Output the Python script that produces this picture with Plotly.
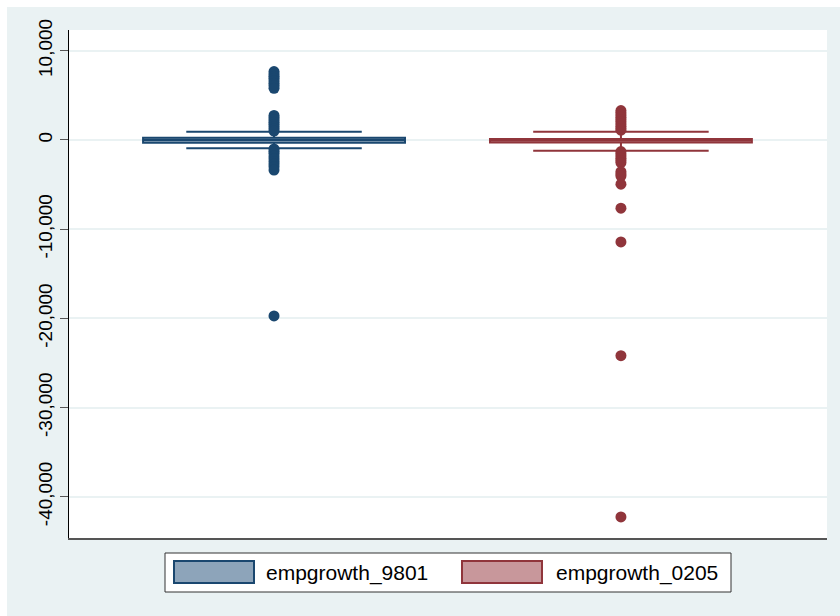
import plotly.graph_objects as go

# --- data -------------------------------------------------------------
series_names = ["empgrowth_9801", "empgrowth_0205"]
positions = [0, 1]

q1 = [-300, -280]
median = [0, -40]
q3 = [240, 120]
lower_whisker = [-930, -1200]
upper_whisker = [930, 930]

outliers_9801 = [
    7670, 7400, 7150, 6930, 6650, 6370, 6100, 5800,
    2750, 2500, 2250, 2000, 1750, 1500, 1250, 1000,
    -1000, -1250, -1500, -1800, -2100, -2400, -2700, -3000, -3370,
    -19730,
]
outliers_0205 = [
    3300, 3050, 2800, 2550, 2300, 2050, 1800, 1550, 1300, 1100,
    -1300, -1550, -1800, -2050, -2300, -2550,
    -3550, -3800, -4050, -4950, -7650,
    -11430, -24180, -42260,
]
outliers = [outliers_9801, outliers_0205]

y_ticks = [-40000, -30000, -20000, -10000, 0, 10000]
y_tick_labels = ["-40,000", "-30,000", "-20,000", "-10,000", "0", "10,000"]

# --- styling ----------------------------------------------------------
line_colors = ["#1A476F", "#90353B"]
fill_colors = ["#8DA4BA", "#C8979B"]
outer_bg = "#EAF2F3"
grid_col = "#EAF2F3"

W, H = 840, 616
L, R, T, B = 69, 827, 30, 538  # plot area in pixels


def px_x(px):
    return (px - L) / (R - L)


def px_y(py):
    return (B - py) / (B - T)


fig = go.Figure()

for i, name in enumerate(series_names):
    fig.add_trace(go.Box(
        x=[positions[i]],
        q1=[q1[i]], median=[median[i]], q3=[q3[i]],
        lowerfence=[lower_whisker[i]], upperfence=[upper_whisker[i]],
        width=0.755, whiskerwidth=0.67,
        line=dict(color=line_colors[i], width=2),
        fillcolor=fill_colors[i],
        boxpoints=False, name=name, showlegend=False,
    ))
    fig.add_trace(go.Scatter(
        x=[positions[i]] * len(outliers[i]), y=outliers[i],
        mode="markers",
        marker=dict(color=line_colors[i], size=11, line=dict(width=0)),
        showlegend=False, hoverinfo="y",
    ))

shapes = [
    # thin white frame at the top and left edges of the graph region
    dict(type="rect", xref="paper", yref="paper",
         x0=px_x(0), x1=px_x(W), y0=px_y(7), y1=px_y(0),
         fillcolor="white", line=dict(width=0), layer="below"),
    dict(type="rect", xref="paper", yref="paper",
         x0=px_x(0), x1=px_x(7), y0=px_y(H), y1=px_y(0),
         fillcolor="white", line=dict(width=0), layer="below"),
    # legend frame
    dict(type="rect", xref="paper", yref="paper",
         x0=px_x(165), x1=px_x(731), y0=px_y(592), y1=px_y(553),
         fillcolor="white", line=dict(color="#333333", width=1)),
]
annotations = []
swatch_left = [174, 462]
text_left = [264, 554]
for i, name in enumerate(series_names):
    shapes.append(dict(
        type="rect", xref="paper", yref="paper",
        x0=px_x(swatch_left[i]), x1=px_x(swatch_left[i] + 80),
        y0=px_y(583), y1=px_y(561),
        fillcolor=fill_colors[i], line=dict(color=line_colors[i], width=2)))
    annotations.append(dict(
        xref="paper", yref="paper", x=px_x(text_left[i]), y=px_y(572.5),
        text=name, showarrow=False, xanchor="left", yanchor="middle",
        font=dict(size=21, color="black")))

fig.update_layout(
    width=W, height=H,
    margin=dict(l=L, r=W - R, t=T, b=H - B, pad=0),
    paper_bgcolor=outer_bg, plot_bgcolor="white",
    font=dict(family="Liberation Sans, Arial, sans-serif", color="black"),
    showlegend=False,
    shapes=shapes, annotations=annotations,
    xaxis=dict(range=[-0.591, 1.594], showticklabels=False, ticks="",
               showgrid=False, zeroline=False, showline=True,
               linecolor="#555555", linewidth=2),
    yaxis=dict(range=[-44620, 12330], tickvals=y_ticks, ticktext=y_tick_labels,
               tickangle=-90, ticks="outside", ticklen=8, tickcolor="#555555",
               tickfont=dict(size=19), showgrid=True, gridcolor=grid_col,
               gridwidth=2, zeroline=False, showline=True,
               linecolor="black", linewidth=1),
)

fig.write_html("out.html")
